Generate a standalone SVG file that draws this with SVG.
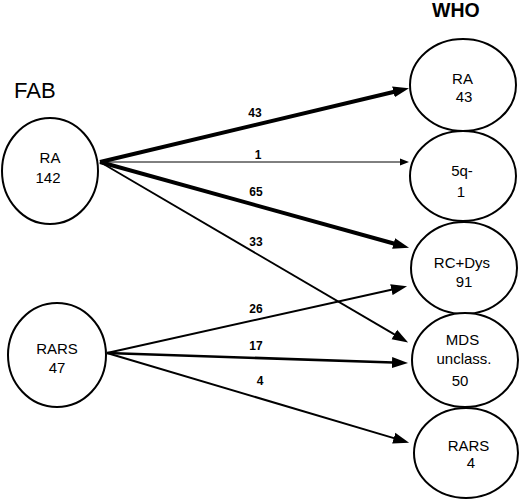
<svg xmlns="http://www.w3.org/2000/svg" width="520" height="500" viewBox="0 0 520 500">
<style>
.node{fill:#fff;stroke:#000;stroke-width:2}
.nt{font-family:"Liberation Sans",Arial,sans-serif;font-size:15px;fill:#000;text-anchor:middle}
.el{font-family:"Liberation Sans",Arial,sans-serif;font-size:12px;font-weight:bold;fill:#000;text-anchor:middle}
.title{font-family:"Liberation Sans",Arial,sans-serif;fill:#000}
.e{fill:none;stroke:#000}
</style>
<defs>
<marker id="ab" viewBox="0 -6 16 12" refX="1" refY="0" markerWidth="16" markerHeight="12" markerUnits="userSpaceOnUse" orient="auto">
<path d="M0,-5.5 L16,0 L0,5.5 z" fill="#000"/>
</marker>
<marker id="as" viewBox="0 -4 9 8" refX="1" refY="0" markerWidth="9" markerHeight="8" markerUnits="userSpaceOnUse" orient="auto">
<path d="M0,-3.5 L9,0 L0,3.5 z" fill="#000"/>
</marker>
</defs>
<text class="title" x="14" y="98" font-size="22">FAB</text>
<text class="title" x="432" y="17" font-size="19.5" font-weight="bold">WHO</text>
<g id="connectors">
<line class="e" x1="100" y1="162" x2="394.4" y2="91.7" stroke-width="4" marker-end="url(#ab)"/>
<line class="e" x1="100" y1="162" x2="401" y2="162" stroke-width="1" marker-end="url(#as)"/>
<line class="e" x1="100" y1="162" x2="394.6" y2="243.7" stroke-width="4" marker-end="url(#ab)"/>
<line class="e" x1="100" y1="162" x2="395.2" y2="334.9" stroke-width="1.8" marker-end="url(#ab)"/>
<line class="e" x1="107" y1="353" x2="392.4" y2="289.5" stroke-width="2" marker-end="url(#ab)"/>
<line class="e" x1="107" y1="353" x2="393" y2="362.5" stroke-width="2.6" marker-end="url(#ab)"/>
<line class="e" x1="107" y1="353" x2="394.7" y2="438.4" stroke-width="2" marker-end="url(#ab)"/>
<text class="el" x="255" y="117">43</text>
<text class="el" x="258" y="159">1</text>
<text class="el" x="256" y="196">65</text>
<text class="el" x="256" y="246">33</text>
<text class="el" x="256" y="313">26</text>
<text class="el" x="256" y="350">17</text>
<text class="el" x="260" y="385">4</text>
</g>
<g id="fab-ra">
<ellipse class="node" cx="50" cy="171" rx="48" ry="53"/>
<text class="nt" x="50" y="163">RA</text>
<text class="nt" x="48" y="183">142</text>
</g>
<g id="fab-rars">
<ellipse class="node" cx="57" cy="355" rx="49" ry="52"/>
<text class="nt" x="57" y="354">RARS</text>
<text class="nt" x="57" y="373">47</text>
</g>
<g id="who-ra">
<ellipse class="node" cx="463" cy="85" rx="53" ry="46"/>
<text class="nt" x="462.5" y="84">RA</text>
<text class="nt" x="464" y="102">43</text>
</g>
<g id="who-5q">
<ellipse class="node" cx="463" cy="176" rx="53" ry="45"/>
<text class="nt" x="462" y="176">5q-</text>
<text class="nt" x="461" y="197">1</text>
</g>
<g id="who-rcdys">
<ellipse class="node" cx="464" cy="268" rx="53" ry="46"/>
<text class="nt" x="462" y="268">RC+Dys</text>
<text class="nt" x="464" y="287">91</text>
</g>
<g id="who-mds">
<ellipse class="node" cx="465" cy="360" rx="53" ry="47"/>
<text class="nt" x="462.5" y="345">MDS</text>
<text class="nt" x="464" y="364">unclass.</text>
<text class="nt" x="460" y="386">50</text>
</g>
<g id="who-rars">
<ellipse class="node" cx="466" cy="453" rx="52" ry="45"/>
<text class="nt" x="468.5" y="451">RARS</text>
<text class="nt" x="471" y="468">4</text>
</g>
</svg>
